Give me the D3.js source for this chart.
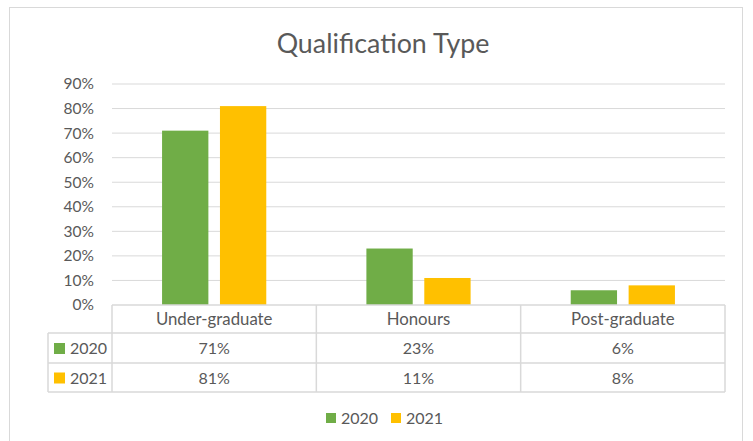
<!DOCTYPE html>
<html><head><meta charset="utf-8">
<script src="https://cdn.jsdelivr.net/npm/d3@7"></script>
<style>body{margin:0;background:#fff;} svg{display:block;}</style>
</head><body>
<script>
const categories = ["Under-graduate", "Honours", "Post-graduate"];
const seriesNames = ["2020", "2021"];
const values2020 = [71, 23, 6];
const values2021 = [81, 11, 8];
const yTicks = [0, 10, 20, 30, 40, 50, 60, 70, 80, 90];
const colors = ["#70ad47", "#ffc000"];
const seriesValues = [values2020, values2021];

const W = 753, H = 441;
const font = "Lato, sans-serif";
const textColor = "#595959";
const lineColor = "#d9d9d9";

const svg = d3.select("body").append("svg").attr("width", W).attr("height", H);
svg.append("rect").attr("x", 9.5).attr("y", 7.5).attr("width", 733).attr("height", 445)
  .attr("fill", "#fff").attr("stroke", lineColor).attr("stroke-width", 1);

svg.append("text").attr("x", 383).attr("y", 53).attr("text-anchor", "middle")
  .attr("font-family", font).attr("font-size", 26.8).attr("fill", textColor)
  .text("Qualification Type");

const plotL = 112, plotR = 725, plotT = 84, plotB = 305;
const x = d3.scaleBand().domain(categories).range([plotL, plotR]).padding(0);
const y = d3.scaleLinear().domain([0, 90]).range([plotB, plotT]);
const groupW = x.bandwidth() * 0.51;
const x1 = d3.scaleBand().domain(seriesNames).range([0, groupW]).paddingInner(0.2);

svg.append("g").selectAll("line").data(yTicks.filter(d => d > 0)).join("line")
  .attr("x1", plotL).attr("x2", plotR)
  .attr("y1", d => y(d)).attr("y2", d => y(d))
  .attr("stroke", lineColor).attr("stroke-width", 1);

const yAxis = d3.axisLeft(y).tickValues(yTicks).tickFormat(d => d + "%").tickSize(0).tickPadding(0);
const ya = svg.append("g").attr("transform", `translate(94,0)`).call(yAxis);
ya.select(".domain").remove();
ya.selectAll("text").attr("font-family", font).attr("font-size", 15.5).attr("fill", textColor);

seriesNames.forEach((s, si) => {
  svg.append("g").selectAll("rect").data(categories).join("rect")
    .attr("x", c => x(c) + (x.bandwidth() - groupW) / 2 + x1(s))
    .attr("width", x1.bandwidth())
    .attr("y", (c, i) => y(seriesValues[si][i]))
    .attr("height", (c, i) => plotB - y(seriesValues[si][i]))
    .attr("fill", colors[si]);
});

const rowTops = [305, 333, 363, 392];
const tableLeft = 48;
const tg = svg.append("g").attr("stroke", lineColor).attr("stroke-width", 1.5).attr("fill", "none");
tg.append("line").attr("x1", plotL).attr("x2", plotR).attr("y1", rowTops[0]).attr("y2", rowTops[0]);
[1, 2, 3].forEach(i => tg.append("line").attr("x1", tableLeft).attr("x2", plotR).attr("y1", rowTops[i]).attr("y2", rowTops[i]));
tg.append("line").attr("x1", tableLeft).attr("x2", tableLeft).attr("y1", rowTops[1]).attr("y2", rowTops[3]);
const colEdges = [plotL].concat(categories.map(c => x(c) + x.bandwidth()));
colEdges.forEach(cx => tg.append("line").attr("x1", cx).attr("x2", cx).attr("y1", rowTops[0]).attr("y2", rowTops[3]));

const fs = 16;
svg.append("g").selectAll("text").data(categories).join("text")
  .attr("x", c => x(c) + x.bandwidth() / 2).attr("y", (rowTops[0] + rowTops[1]) / 2 + 6)
  .attr("text-anchor", "middle").attr("font-family", font).attr("font-size", 16.8).attr("fill", textColor)
  .text(c => c);

seriesNames.forEach((s, si) => {
  const top = rowTops[si + 1], bot = rowTops[si + 2], mid = (top + bot) / 2;
  svg.append("rect").attr("x", 54).attr("y", mid - 5).attr("width", 11).attr("height", 11).attr("fill", colors[si]);
  svg.append("text").attr("x", 70).attr("y", mid + 6).attr("font-family", font).attr("font-size", fs)
    .attr("fill", textColor).text(s);
  svg.append("g").selectAll("text").data(categories).join("text")
    .attr("x", c => x(c) + x.bandwidth() / 2).attr("y", mid + 6)
    .attr("text-anchor", "middle").attr("font-family", font).attr("font-size", fs).attr("fill", textColor)
    .text((c, i) => seriesValues[si][i] + "%");
});

const legX = [326, 391];
seriesNames.forEach((s, si) => {
  svg.append("rect").attr("x", legX[si]).attr("y", 413).attr("width", 10).attr("height", 10).attr("fill", colors[si]);
  svg.append("text").attr("x", legX[si] + 15).attr("y", 424).attr("font-family", font).attr("font-size", fs)
    .attr("fill", textColor).text(s);
});
</script>
</body></html>
